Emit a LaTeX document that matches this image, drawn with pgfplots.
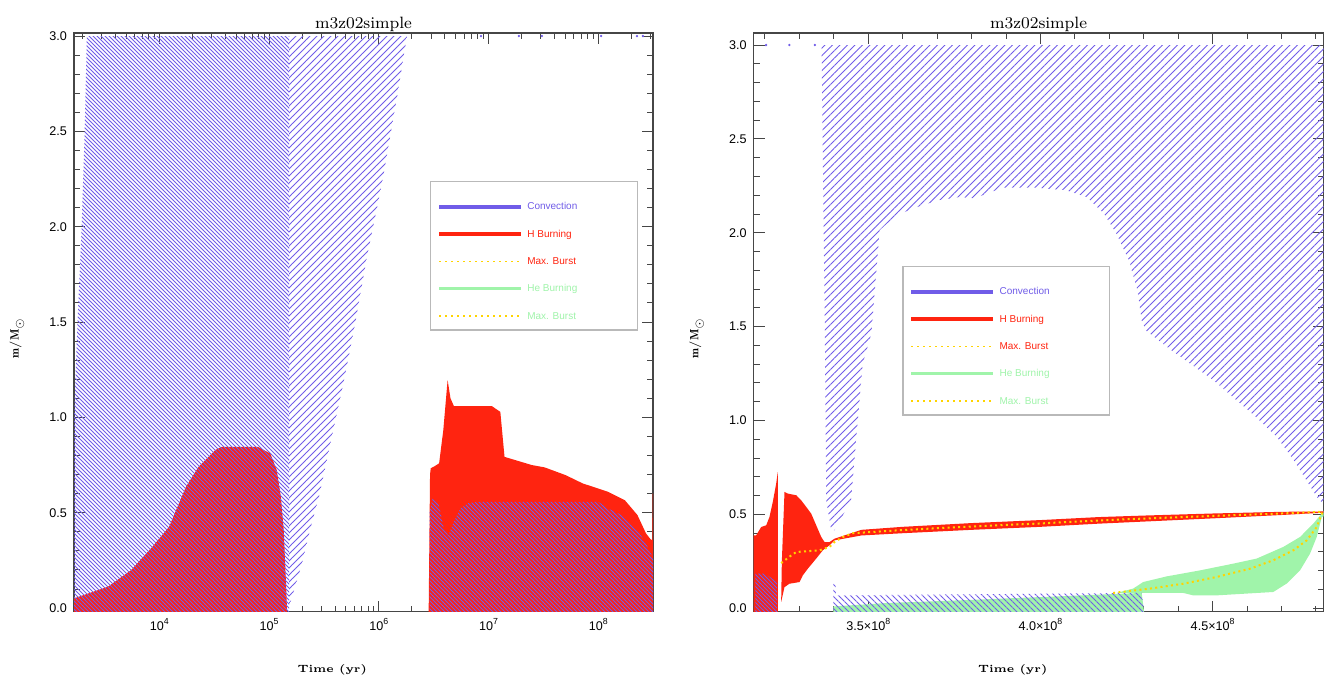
\documentclass[border=0pt]{standalone}
\usepackage{fontspec}
\setsansfont{Liberation Sans}
\usepackage{pgfplots}
\pgfplotsset{compat=1.18}
\usetikzlibrary{patterns.meta}

\definecolor{conv}{RGB}{112,92,232}
\definecolor{hred}{RGB}{255,36,16}
\definecolor{hegreen}{RGB}{160,244,170}
\definecolor{burst}{RGB}{255,212,0}
\definecolor{axcol}{RGB}{70,70,70}
\definecolor{lgdframe}{RGB}{185,185,185}

\newcommand{\sps}[1]{\raisebox{0.48em}{\fontsize{4.4}{5}\selectfont #1}}
\newcommand{\lgd}[2]{\textcolor{#1}{\makebox[55pt][l]{#2}}}

\pgfplotsset{
 kipp/.style={
  scale only axis, height=289.35pt,
  axis line style={axcol, line width=0.7pt},
  every tick/.style={axcol, line width=0.5pt},
  major tick length=5.5pt, minor tick length=3pt,
  tick align=inside,
  ytick={0,0.5,1,1.5,2,2.5,3},
  minor y tick num=4,
  /pgf/number format/assume math mode=true,
  yticklabel style={/pgf/number format/.cd, fixed, fixed zerofill, precision=1},
  tick label style={font=\fontsize{6.3}{7}\selectfont\sffamily},
  title={m3z02simple},
  every axis title shift=0pt,
  title style={at={(0.5,1)}, anchor=base, yshift=2.4pt, inner sep=0pt, font=\fontsize{8.2}{9}\selectfont},
  xlabel={Time (yr)},
  xlabel style={anchor=base, inner sep=0pt, font=\fontsize{5.3}{6}\selectfont\bfseries},
  ylabel={$\mathbf{m/M}_{\odot}$},
  ylabel style={anchor=center, inner sep=0pt, font=\fontsize{6}{7}\selectfont},
  legend style={draw=lgdframe, line width=0.6pt, fill=white, inner xsep=0pt, inner ysep=5pt,
    font=\fontsize{5}{6}\selectfont\sffamily, row sep=4pt, column sep=2.5pt,
    nodes={inner sep=0pt, text height=9.15pt, text depth=0.5pt}},
  legend cell align=left,
  legend image code/.code={\path (0pt,0pt); \draw[##1] (3.35pt,-2.8pt) -- (44.15pt,-2.8pt);},
 },
 hatchdense/.style={draw=none, pattern={Lines[angle=-45,distance=1.41421pt,line width=0.5pt]}, pattern color=conv},
 hatchwedge/.style={draw=none, pattern={Lines[angle=45,distance=2.47487pt,line width=0.5pt]}, pattern color=conv},
 hatchright/.style={draw=none, pattern={Lines[angle=45,distance=2.65165pt,line width=0.5pt]}, pattern color=conv},
 hatchbottom/.style={draw=none, pattern={Lines[angle=-45,distance=2.12132pt,line width=0.5pt]}, pattern color=conv},
 burstline/.style={burst, line width=1pt, dash pattern=on 1pt off 1.65pt},
}

\newcommand{\mylegend}{%
  \addlegendimage{conv, line width=1.7pt}
  \addlegendentry{\lgd{conv}{Convection}}
  \addlegendimage{hred, line width=1.7pt}
  \addlegendentry{\lgd{hred}{H Burning}}
  \addlegendimage{burst, line width=0.75pt, dash pattern=on 0.75pt off 2.25pt}
  \addlegendentry{\lgd{hred}{Max. Burst}}
  \addlegendimage{hegreen, line width=1.7pt}
  \addlegendentry{\lgd{hegreen}{He Burning}}
  \addlegendimage{burst, line width=0.75pt, dash pattern=on 0.75pt off 2.25pt}
  \addlegendentry{\lgd{hegreen}{Max. Burst}}
}

\begin{document}
\begin{tikzpicture}
\path[use as bounding box] (0,0) rectangle (662.5pt,337.5pt);

% ---------------- left panel ----------------
\begin{axis}[kipp, at={(37pt,31.65pt)}, anchor=south west, width=289.5pt,
  xmode=log, xmin=1671, xmax=3.151e8, ymin=-0.019, ymax=3.016,
  xtick={1e4,1e5,1e6,1e7,1e8},
  xticklabels={10\sps{4},10\sps{5},10\sps{6},10\sps{7},10\sps{8}},
  minor xtick={2e3,3e3,4e3,5e3,6e3,7e3,8e3,9e3,2e4,3e4,4e4,5e4,6e4,7e4,8e4,9e4,
    2e5,3e5,4e5,5e5,6e5,7e5,8e5,9e5,2e6,3e6,4e6,5e6,6e6,7e6,8e6,9e6,
    2e7,3e7,4e7,5e7,6e7,7e7,8e7,9e7,2e8,3e8},
  xlabel style={at={(axis description cs:0.446,-0.105)}},
  ylabel style={at={(axis description cs:-0.0985,0.473)}},
  legend style={at={(0.6149,0.7443)}, anchor=north west},
]
% H burning regions
\addplot[forget plot, fill=hred, draw=none] coordinates {
 (1671,-0.05) (1671,0.051) (3404,0.112) (5534,0.199) (8610,0.32) (12270,0.426)
 (17500,0.636) (22800,0.741) (32500,0.829) (37070,0.846) (78890,0.846)
 (102600,0.811) (117500,0.724) (128200,0.584) (136100,0.409) (143600,0.094) (146600,-0.05)} -- cycle;
\addplot[forget plot, fill=hred, draw=none] coordinates {
 (2.843e6,-0.05) (2.93e6,0.70) (2.971e6,0.733) (3.245e6,0.745) (3.544e6,0.759)
 (3.87e6,0.933) (4.236e6,1.196) (4.5e6,1.10) (4.834e6,1.059) (1.073e7,1.059)
 (1.28e7,1.029) (1.398e7,0.793) (2.483e7,0.75) (3.241e7,0.738) (5.047e7,0.697)
 (7.194e7,0.654) (1.224e8,0.61) (1.744e8,0.566) (2.272e8,0.488) (2.716e8,0.392)
 (3.0e8,0.36) (3.105e8,0.357) (3.13e8,0.6) (3.3e8,0.6) (3.3e8,-0.05)} -- cycle;
% convection hatching
\addplot[forget plot, hatchdense] coordinates {
 (1671,-0.05) (1671,1.0) (1799,1.5) (1963,2.0) (2089,2.5) (2188,3.0)
 (1.52e5,3.0) (1.52e5,-0.05)} -- cycle;
\addplot[forget plot, hatchwedge] coordinates {
 (1.52e5,0.005) (1.52e5,3.0) (1.807e6,3.0) (1.466e6,2.68) (1.069e6,2.227)
 (7.80e5,1.842) (5.94e5,1.458) (4.62e5,1.143) (3.52e5,0.829) (2.85e5,0.584)
 (2.36e5,0.409) (2.0e5,0.235) (1.62e5,0.059)} -- cycle;
\addplot[forget plot, hatchdense] coordinates {
 (2.90e6,-0.05) (2.90e6,0.50) (3.1e6,0.58) (3.5e6,0.55) (3.9e6,0.42) (4.3e6,0.38)
 (4.8e6,0.45) (5.5e6,0.52) (6.5e6,0.55) (8e6,0.557) (1.0e8,0.557) (1.224e8,0.523)
 (1.744e8,0.479) (2.272e8,0.409) (2.716e8,0.339) (3.105e8,0.27) (3.3e8,0.245) (3.3e8,-0.05)} -- cycle;
\addplot[forget plot, only marks, mark=*, mark size=0.35pt, conv] coordinates {
 (8.53e6,3.0) (1.89e7,3.0) (3.06e7,3.0) (1.06e8,3.0) (2.25e8,3.0) (2.55e8,3.0)};
\mylegend
\end{axis}

% ---------------- right panel ----------------
\begin{axis}[kipp, at={(376.8pt,31.65pt)}, anchor=south west, width=284.95pt,
  xmin=3.167, xmax=4.822, ymin=-0.018, ymax=3.064,
  xtick={3.5,4.0,4.5},
  xticklabels={3.5×10\sps{8},4.0×10\sps{8},4.5×10\sps{8}},
  minor xtick={3.2,3.3,3.4,3.6,3.7,3.8,3.9,4.1,4.2,4.3,4.4,4.6,4.7,4.8},
  xlabel style={at={(axis description cs:0.4546,-0.105)}},
  ylabel style={at={(axis description cs:-0.1,0.473)}},
  legend style={at={(0.2609,0.5974)}, anchor=north west},
]
% He burning
\addplot[forget plot, fill=hegreen, draw=none] coordinates {
 (3.3985,-0.05) (3.3985,0.01) (3.55,0.028) (3.8,0.045) (4.0,0.06) (4.2,0.075)
 (4.294,0.082) (4.303,-0.05)} -- cycle;
\addplot[forget plot, fill=hegreen, draw=none] coordinates {
 (4.2209,0.082) (4.2692,0.105) (4.2983,0.14) (4.3663,0.17) (4.4631,0.202)
 (4.5599,0.238) (4.6279,0.265) (4.7052,0.327) (4.7538,0.38) (4.7924,0.451)
 (4.8169,0.505) (4.822,0.52) (4.822,0.49) (4.8169,0.486) (4.8023,0.38) (4.7828,0.291)
 (4.7538,0.202) (4.7151,0.132) (4.6762,0.087) (4.5116,0.069) (4.4436,0.069)
 (4.4145,0.082) (4.3032,0.082)} -- cycle;
% H burning
\addplot[forget plot, fill=hred, draw=none] coordinates {
 (3.16,-0.05) (3.16,0.389) (3.1745,0.389) (3.189,0.433) (3.2035,0.442) (3.213,0.486)
 (3.2227,0.566) (3.2325,0.664) (3.2372,0.726) (3.2372,-0.05)} -- cycle;
\addplot[forget plot, fill=hred, draw=none] coordinates {
 (3.247,0.034) (3.249,0.25) (3.2567,0.62) (3.2665,0.611) (3.291,0.602) (3.3052,0.575)
 (3.3198,0.54) (3.3343,0.504) (3.3488,0.442) (3.3634,0.38) (3.373,0.353)
 (3.3875,0.353) (3.402,0.371) (3.48,0.418) (3.6,0.434) (3.8,0.454) (4.0,0.47)
 (4.17,0.486) (4.3,0.494) (4.5,0.505) (4.7,0.514) (4.83,0.516)
 (4.83,0.51) (4.7,0.497) (4.5,0.479) (4.3,0.462) (4.17,0.451) (4.0,0.434)
 (3.8,0.418) (3.6,0.4) (3.48,0.388) (3.402,0.362) (3.3875,0.336) (3.368,0.309)
 (3.3488,0.265) (3.3244,0.211) (3.31,0.176) (3.3003,0.14) (3.2712,0.131) (3.2567,0.113)} -- cycle;
% convection hatching
\addplot[forget plot, hatchright] coordinates {
 (3.3643,3.0) (4.83,3.0) (4.83,0.54) (4.803,0.593) (4.7724,0.682) (4.7355,0.789)
 (4.6863,0.913) (4.625,1.02) (4.5023,1.215) (4.3797,1.375) (4.3061,1.48)
 (4.2939,1.534) (4.2817,1.694) (4.2567,1.854) (4.2203,1.996) (4.184,2.103)
 (4.1346,2.19) (4.0735,2.227) (3.9863,2.24) (3.8889,2.24) (3.809,2.184)
 (3.7654,2.19) (3.7043,2.174) (3.6433,2.138) (3.5948,2.103) (3.5701,2.076)
 (3.5329,2.014) (3.509,1.465) (3.4837,1.30) (3.4645,0.895) (3.45,0.575)
 (3.4014,0.415) (3.3924,0.415) (3.3779,0.575) (3.3739,1.48)} -- cycle;
\addplot[forget plot, hatchbottom] coordinates {
 (3.3985,-0.05) (3.3985,0.13) (3.4045,0.13) (3.406,0.069) (4.294,0.082) (4.303,-0.05)} -- cycle;
\addplot[forget plot, hatchdense] coordinates {
 (3.172,-0.05) (3.172,0.185) (3.20,0.185) (3.235,0.14) (3.235,-0.05)} -- cycle;
\addplot[forget plot, only marks, mark=*, mark size=0.35pt, conv] coordinates {
 (3.203,3.0) (3.271,3.0) (3.345,3.0)};
% maximum burst lines
\addplot[forget plot, burstline] coordinates {
 (3.247,0.241) (3.2763,0.282) (3.291,0.30) (3.3587,0.309) (3.3875,0.327)
 (3.402,0.353) (3.4262,0.38) (3.4553,0.40) (3.6,0.417) (3.8,0.436) (4.0,0.452)
 (4.17,0.468) (4.3,0.478) (4.5,0.492) (4.7,0.505) (4.82,0.515)};
\addplot[forget plot, burstline] coordinates {
 (4.211,0.082) (4.3177,0.105) (4.4145,0.131) (4.5116,0.167) (4.6084,0.211)
 (4.6762,0.256) (4.7343,0.309) (4.7733,0.362) (4.8023,0.433) (4.8206,0.52)};
\mylegend
\end{axis}
\end{tikzpicture}
\end{document}
